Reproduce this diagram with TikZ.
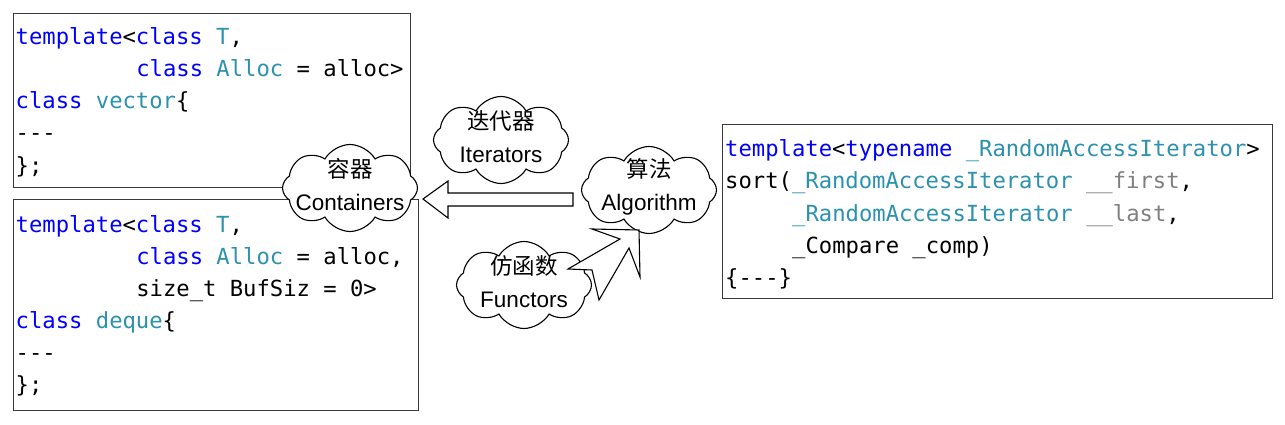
\documentclass[tikz,border=0pt]{standalone}
\usepackage{fontspec}
\setmainfont{Liberation Sans}
\setmonofont{DejaVu Sans Mono}
\newfontfamily\cjk{Noto Sans CJK SC}
\usetikzlibrary{shapes.symbols,positioning,calc}
\definecolor{kwblue}{HTML}{0000FF}
\definecolor{tyteal}{HTML}{2B91AF}
\definecolor{argray}{HTML}{808080}
\definecolor{frame}{HTML}{3A3A3A}
\newcommand{\kwd}[1]{\textcolor{kwblue}{#1}}
\newcommand{\typ}[1]{\textcolor{tyteal}{#1}}
\newcommand{\argn}[1]{\textcolor{argray}{#1}}

\begin{document}
\begin{tikzpicture}[x=1pt,y=-1pt,
  codebox/.style={draw=frame, line width=1.3pt, anchor=north west, inner sep=0pt},
  code/.style={anchor=base west, inner sep=0pt, font=\ttfamily\fontsize{22.2}{32}\selectfont},
  cloudbox/.style={cloud, cloud puffs=8, cloud puff arc=120, aspect=1.55, draw=black, line width=1.1pt, fill=white, minimum width=135pt, minimum height=87pt, inner sep=0pt},
  cloudtext/.style={align=center, inner sep=0pt, font=\fontsize{22.5}{33}\selectfont},
  blockarrow/.style={draw=black, line width=1.1pt, fill=white, line join=miter}]
\useasboundingbox (0,0) rectangle (1285,425);
% code frames
\node[codebox, minimum width=397, minimum height=174] (vecbox) at (13,13) {};
\node[codebox, minimum width=405, minimum height=211] (dqbox) at (13,199) {};
\node[codebox, minimum width=550, minimum height=174] (sortbox) at (722,124) {};
% vector
\foreach \n/\c/\txt in {
  0/0/{\kwd{template}<\kwd{class} \typ{T},},
  1/9/{\kwd{class} \typ{Alloc} = alloc>},
  2/0/{\kwd{class} \typ{vector}\{},
  3/0/{-{}-{}-},
  4/0/{\};}}{
  \node[code] (vec\n) at (15.5+\c*13.4, 45+\n*32) {\txt};
}
% deque
\foreach \n/\c/\txt in {
  0/0/{\kwd{template}<\kwd{class} \typ{T},},
  1/9/{\kwd{class} \typ{Alloc} = alloc,},
  2/9/{size\_t BufSiz = 0>},
  3/0/{\kwd{class} \typ{deque}\{},
  4/0/{-{}-{}-},
  5/0/{\};}}{
  \node[code] (dq\n) at (15.5+\c*13.4, 232+\n*32) {\txt};
}
% sort
\foreach \n/\c/\txt in {
  0/0/{\kwd{template}<\kwd{typename} \typ{\_RandomAccessIterator}>},
  1/0/{sort(\typ{\_RandomAccessIterator} \argn{\_\_first},},
  2/5/{\typ{\_RandomAccessIterator} \argn{\_\_last},},
  3/5/{\_Compare \_comp)},
  4/0/{\{-{}-{}-\}}}{
  \node[code] (sort\n) at (725+\c*13.4, 157+\n*32) {\txt};
}
% clouds
\foreach \nm/\x/\y/\cn/\en in {
  cont/350/188/{容器}/{Containers},
  iter/501/140/{迭代器}/{Iterators},
  algo/649/190/{算法}/{Algorithm},
  func/524/285/{仿函数}/{Functors}}{
  \node[cloudbox] (\nm) at (\x,\y) {};
  \node[cloudtext] (\nm txt) at ($(\nm.center)+(0,-3)$) {{\cjk \cn}\\\en};
}
% arrows
\coordinate (itip) at (423,199);
\draw[blockarrow] (itip) -- ++(25,-18) -- ++(0,12) -- ++(125,0) -- ++(0,13)
  -- ++(-125,0) -- ++(0,12) -- cycle;
\coordinate (ftip) at (639,230);
\draw[blockarrow] (ftip) -- (640,277) -- (629,248) -- (599,300) -- (592,270)
  -- (568,269) -- (620,239) -- (592,229) -- cycle;
\end{tikzpicture}
\end{document}
